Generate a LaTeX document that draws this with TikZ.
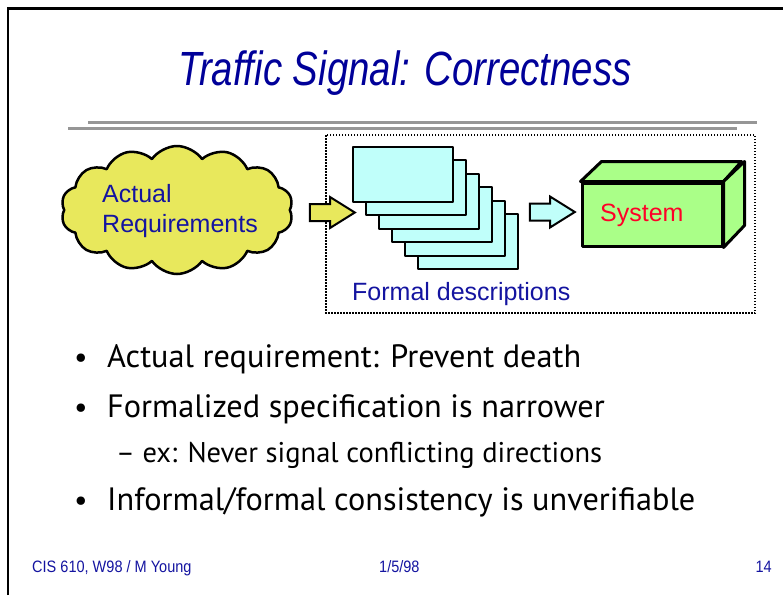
\documentclass[tikz,border=0pt]{standalone}
\usepackage{fontspec}
\setmainfont{Liberation Sans}
\newfontfamily\bulletfont{PT Sans}
\usetikzlibrary{shapes.symbols,shapes.arrows}
\definecolor{titleblue}{RGB}{0,0,153}
\definecolor{textblue}{RGB}{20,20,160}
\definecolor{cloudyellow}{RGB}{232,232,92}
\definecolor{pagecyan}{RGB}{192,255,250}
\definecolor{boxgreen}{RGB}{170,255,136}
\definecolor{sysred}{RGB}{255,0,40}
\definecolor{rulegray}{RGB}{150,150,150}
\tikzset{
  outl/.style={draw=black,line width=2.5pt,line join=round},
  pagebox/.style={outl,line width=2pt,fill=pagecyan,minimum width=100pt,minimum height=55pt,inner sep=0pt},
  blockarrow/.style={single arrow,draw=black,line width=2pt,inner sep=7.5pt,minimum height=45pt,single arrow head extend=7pt,single arrow tip angle=64,text width=0pt},
  diagtext/.style={font=\fontsize{25}{30}\selectfont,inner sep=0pt},
  bultext/.style={font=\bulletfont\fontsize{32.3}{40}\selectfont,inner sep=0pt,anchor=base west},
  bulletdot/.style={font=\bulletfont\fontsize{30}{30}\selectfont,inner sep=0pt,anchor=center},
  subtext/.style={font=\bulletfont\fontsize{28.5}{35}\selectfont,inner sep=0pt,anchor=base west},
  foot/.style={font=\fontsize{16.5}{20}\selectfont,text=textblue,inner sep=0pt},
}
\begin{document}
\begin{tikzpicture}[x=1pt,y=-1pt]
\useasboundingbox (0,0) rectangle (783,595);
% frame
\draw[line width=2.5pt,black] (8,595) -- (8,8.5) -- (783,8.5);
% title
\node[anchor=base,inner sep=0pt,text=titleblue] (title) at (405,85)
  {\scalebox{0.8}[1]{\fontsize{48}{56}\selectfont\itshape Traffic Signal: Correctness}};
% rules
\draw[rulegray,line width=3pt] (88,122) -- (757,122);
\draw[rulegray,line width=3pt] (68,128) -- (737,128);
% dotted box
\draw[black,line width=2pt,dash pattern=on 1.5pt off 1.5pt] (326,135) rectangle (755,313);
% cloud
\node[cloud,cloud puffs=14,cloud puff arc=110,aspect=1.8,outl,fill=cloudyellow,
  minimum width=232pt,minimum height=128pt,inner sep=0pt] (cloud) at (177,210) {};
\node[diagtext,text=textblue,anchor=base west] (act1) at (102,202) {Actual};
\node[diagtext,text=textblue,anchor=base west] (act2) at (102,232) {Requirements};
% yellow arrow
\node[blockarrow,fill=cloudyellow] (arr1) at (325.5,212.5) {};
% pages
\foreach \k in {5,4,...,0}{
  \node[pagebox] (p\k) at ({403+13*\k},{174.5+13.4*\k}) {};
}
\node[diagtext,text=textblue,anchor=base west] (formal) at (352,300) {Formal descriptions};
% cyan arrow
\node[blockarrow,fill=pagecyan] (arr2) at (545.5,212) {};
% system box
\node[outl,line width=3pt,fill=boxgreen,minimum width=140pt,minimum height=63pt,inner sep=0pt] (sys) at (652,214.5) {};
\draw[outl,line width=3pt,fill=boxgreen] (sys.north west) -- ++(21,-20) -- ++(140,0) -- (sys.north east) -- cycle;
\draw[outl,line width=3pt,fill=boxgreen] (sys.north east) -- ++(21,-20) -- ++(0,64) -- (sys.south east) -- cycle;
\node[diagtext,text=sysred,anchor=base west] (systxt) at (600,221) {System};
% bullets
\node[bulletdot] (b1d) at (81,361) {•};
\node[bultext] (b1) at (107,367) {Actual requirement: Prevent death};
\node[bulletdot] (b2d) at (81,411) {•};
\node[bultext] (b2) at (107,417) {Formalized specification is narrower};
\node[subtext] (s1) at (116,462) {– ex: Never signal conflicting directions};
\node[bulletdot] (b3d) at (81,504) {•};
\node[bultext] (b3) at (107,510) {Informal/formal consistency is unverifiable};
% footer
\node[foot,anchor=base west] (f1) at (32,572) {\scalebox{0.88}[1]{CIS 610, W98 / M Young}};
\node[foot,anchor=base west] (f2) at (379,572) {\scalebox{0.88}[1]{1/5/98}};
\node[foot,anchor=base east] (f3) at (772,572) {\scalebox{0.88}[1]{14}};
\end{tikzpicture}
\end{document}
